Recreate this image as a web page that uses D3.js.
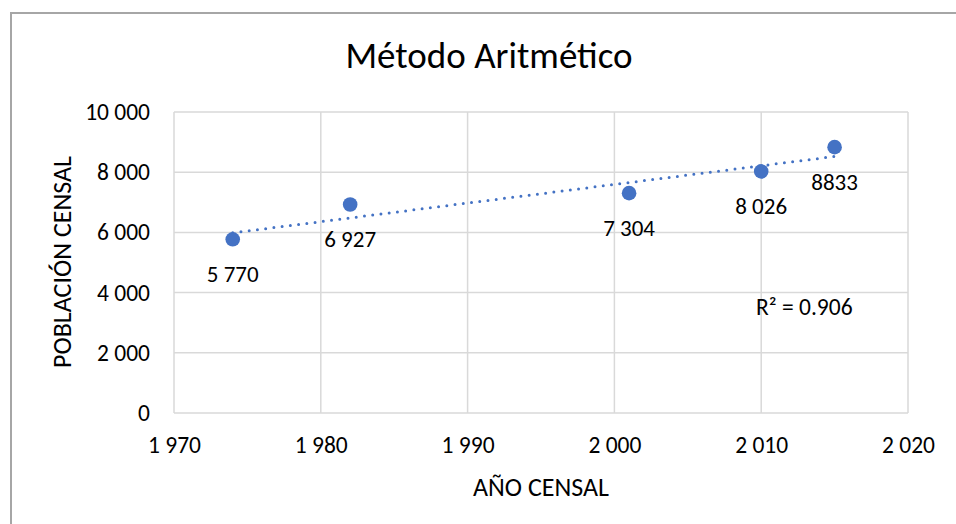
<!DOCTYPE html>
<html>
<head>
<meta charset="utf-8">
<script src="https://cdn.jsdelivr.net/npm/d3@7"></script>
<style>
  html, body { margin: 0; padding: 0; background: #fff; }
  svg { display: block; }
  text { font-family: Carlito, Calibri, Lato, "Open Sans", sans-serif; fill: #000; }
</style>
</head>
<body>
<svg id="chart" width="956" height="524"></svg>
<script>
// ---- data ----
const years = [1974, 1982, 2001, 2010, 2015];
const population = [5770, 6927, 7304, 8026, 8833];
const pointLabels = ["5 770", "6 927", "7 304", "8 026", "8833"];
const xTicks = [1970, 1980, 1990, 2000, 2010, 2020];
const yTicks = [0, 2000, 4000, 6000, 8000, 10000];
const titleText = "Método Aritmético";
const xTitle = "AÑO CENSAL";
const yTitle = "POBLACIÓN CENSAL";
const r2Text = "R² = 0.906";

const svg = d3.select("#chart");
const W = 956, H = 524;
const plot = { left: 174, right: 908, top: 112, bottom: 413 };
const blue = "#4472C4";
const gridColor = "#d9d9d9";

const locale = d3.formatLocale({ decimal: ".", thousands: "\u2009", grouping: [3], currency: ["", ""] });
const fmt = locale.format(",d");
const fmtTick = v => fmt(v).replace("\u2009", " ");

const x = d3.scaleLinear().domain([1970, 2020]).range([plot.left, plot.right]);
const y = d3.scaleLinear().domain([0, 10000]).range([plot.bottom, plot.top]);

// outer chart border
svg.append("path")
  .attr("d", `M11,${H + 5} L11,13 L${W + 5},13`)
  .attr("fill", "none").attr("stroke", "#a6a6a6").attr("stroke-width", 2);

// title
svg.append("text").attr("x", 489).attr("y", 68)
  .attr("text-anchor", "middle").style("font-size", "37px").text(titleText);

// gridlines
svg.append("g").selectAll("line").data(yTicks).join("line")
  .attr("x1", plot.left).attr("x2", plot.right)
  .attr("y1", d => y(d)).attr("y2", d => y(d))
  .attr("stroke", gridColor).attr("stroke-width", 1.5);
svg.append("g").selectAll("line").data(xTicks).join("line")
  .attr("y1", plot.top).attr("y2", plot.bottom)
  .attr("x1", d => x(d)).attr("x2", d => x(d))
  .attr("stroke", gridColor).attr("stroke-width", 1.5);

// axes (text only, via d3 axis)
const yAxis = svg.append("g").attr("transform", `translate(${plot.left},0)`)
  .call(d3.axisLeft(y).tickValues(yTicks).tickFormat(fmtTick).tickSize(0).tickPadding(24));
yAxis.select(".domain").remove();
yAxis.selectAll("text").style("font-size", "23.5px").style("font-family", null).attr("fill", "#000");

const xAxis = svg.append("g").attr("transform", `translate(0,${plot.bottom})`)
  .call(d3.axisBottom(x).tickValues(xTicks).tickFormat(fmtTick).tickSize(0).tickPadding(23));
xAxis.select(".domain").remove();
xAxis.selectAll("text").style("font-size", "23.5px").style("font-family", null).attr("fill", "#000");

// axis titles
svg.append("text").attr("x", 541).attr("y", 496)
  .attr("text-anchor", "middle").style("font-size", "26px").text(xTitle);
svg.append("text").attr("transform", "translate(71,262) rotate(-90)")
  .attr("text-anchor", "middle").style("font-size", "26px").text(yTitle);

// linear trendline (least squares from the data)
const mx = d3.mean(years), my = d3.mean(population);
const sxy = d3.sum(years, (v, i) => (v - mx) * (population[i] - my));
const sxx = d3.sum(years, v => (v - mx) ** 2);
const slope = sxy / sxx, intercept = my - slope * mx;
const xs = d3.extent(years);
svg.append("line")
  .attr("x1", x(xs[0])).attr("y1", y(intercept + slope * xs[0]))
  .attr("x2", x(xs[1])).attr("y2", y(intercept + slope * xs[1]))
  .attr("stroke", blue).attr("stroke-width", 3)
  .attr("stroke-linecap", "round").attr("stroke-dasharray", "0 8.3");

// points
svg.append("g").selectAll("circle").data(years).join("circle")
  .attr("cx", d => x(d)).attr("cy", (d, i) => y(population[i]))
  .attr("r", 7.3).attr("fill", blue);

// data labels (below points)
svg.append("g").selectAll("text").data(years).join("text")
  .attr("x", d => x(d)).attr("y", (d, i) => y(population[i]) + 35)
  .attr("text-anchor", "middle").attr("dominant-baseline", "central")
  .style("font-size", "23px").text((d, i) => pointLabels[i]);

// R² label
svg.append("text").attr("x", 756).attr("y", 315)
  .style("font-size", "23.5px").text(r2Text);
</script>
</body>
</html>
